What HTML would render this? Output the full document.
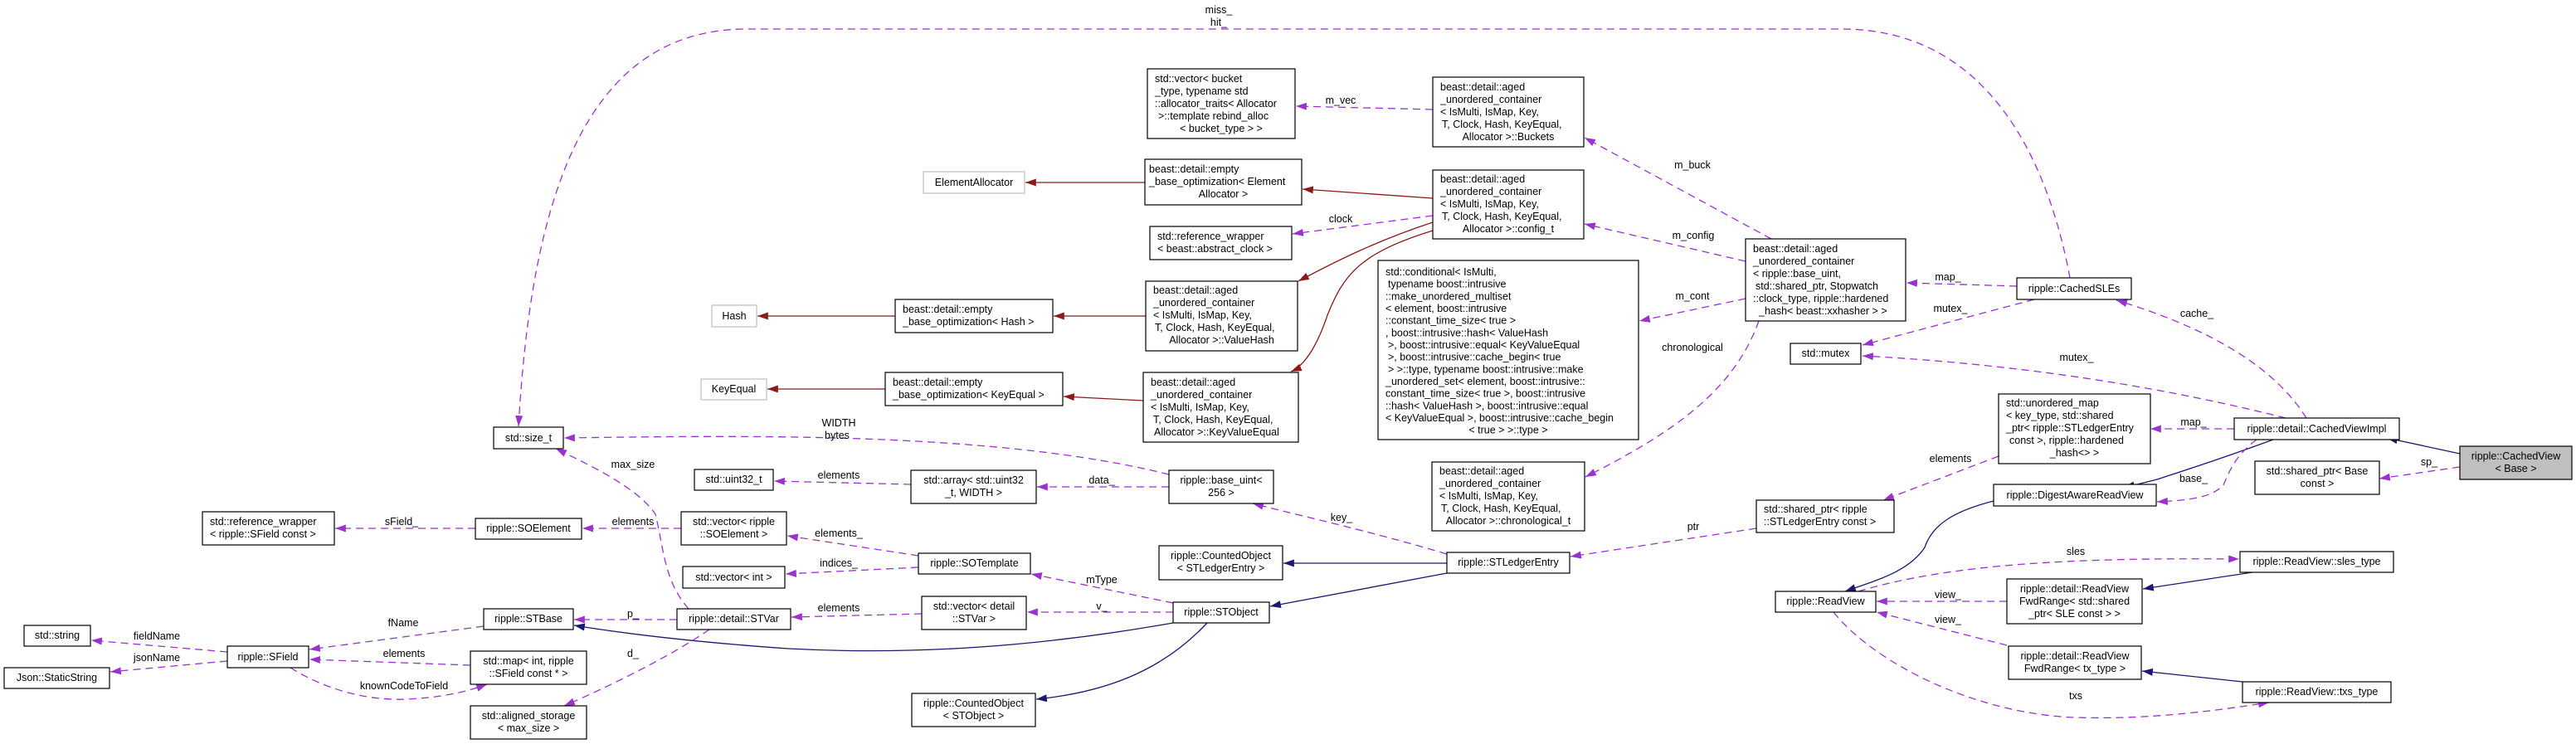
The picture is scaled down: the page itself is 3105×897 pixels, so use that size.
<!DOCTYPE html>
<html><head><meta charset="utf-8"><style>
html,body{margin:0;padding:0;background:#fff;}
svg{display:block;}
text{font-family:"Liberation Sans",Arial,sans-serif;font-size:12.5px;fill:#000;}
.c{text-anchor:middle;}
.b{fill:#fff;stroke:#000;stroke-width:1.2;}
.g{fill:#fff;stroke:#bfbfbf;stroke-width:1.2;}
.p{fill:none;stroke:#9a32cd;stroke-width:1.3;stroke-dasharray:9,6;marker-end:url(#mp);}
.n{fill:none;stroke:#191970;stroke-width:1.3;marker-end:url(#mn);}
.r{fill:none;stroke:#8b1a1a;stroke-width:1.3;marker-end:url(#mr);}
</style></head><body>
<svg width="3105" height="897" viewBox="0 0 3105 897" xmlns="http://www.w3.org/2000/svg">
<defs>
<marker id="mp" viewBox="0 0 10 7" refX="10" refY="3.5" markerWidth="13" markerHeight="9" markerUnits="userSpaceOnUse" orient="auto"><path d="M0,0L10,3.5L0,7z" fill="#9a32cd"/></marker>
<marker id="mn" viewBox="0 0 10 7" refX="10" refY="3.5" markerWidth="13" markerHeight="9" markerUnits="userSpaceOnUse" orient="auto"><path d="M0,0L10,3.5L0,7z" fill="#191970"/></marker>
<marker id="mr" viewBox="0 0 10 7" refX="10" refY="3.5" markerWidth="13" markerHeight="9" markerUnits="userSpaceOnUse" orient="auto"><path d="M0,0L10,3.5L0,7z" fill="#8b1a1a"/></marker>
</defs>

<!-- edges -->
<path class="n" d="M2965,547 L2877,528"/>
<path class="p" d="M2965,563 L2868,577"/>
<path class="n" d="M2740,530 C2680,552 2640,565 2600,578 L2560,588"/>
<path class="p" d="M2693,517 L2592,517"/>
<path class="p" d="M2720,530 C2700,545 2690,560 2680,585 C2665,600 2640,603 2600,605"/>
<path class="p" d="M2780,504 C2740,440 2660,395 2551,362"/>
<path class="p" d="M2755,504 C2620,470 2450,440 2245,429"/>
<path class="p" d="M2452,361 L2245,416"/>
<path class="p" d="M2431,345 L2298,341"/>
<path class="p" d="M2495,335 C2470,200 2400,35 2220,35 L900,35 C700,35 640,250 625,514"/>
<path class="p" d="M2135,288 L1910,166"/>
<path class="p" d="M2104,315 L1910,270"/>
<path class="p" d="M2104,360 L1976,387"/>
<path class="p" d="M2120,387 C2090,470 2020,520 1911,575"/>
<path class="p" d="M1727,132 L1562,128"/>
<path class="r" d="M1727,239 L1570,228"/>
<path class="p" d="M1727,260 L1558,282"/>
<path class="r" d="M1727,268 C1660,290 1610,315 1565,339"/>
<path class="r" d="M1727,278 C1640,305 1620,330 1600,380 C1590,410 1575,440 1556,448"/>
<path class="r" d="M1380,220 L1236,220"/>
<path class="r" d="M1381,381 L1270,381"/>
<path class="r" d="M1079,381 L913,381"/>
<path class="r" d="M1378,483 L1282,478"/>
<path class="r" d="M1067,469 L925,469"/>
<path class="n" d="M2403,604 C2360,615 2330,630 2320,660 C2300,690 2260,700 2224,713"/>
<path class="p" d="M2409,550 L2270,603"/>
<path class="p" d="M2117,637 L1893,671"/>
<path class="p" d="M1744,668 C1650,640 1560,620 1510,607"/>
<path class="n" d="M1744,679 L1547,679"/>
<path class="n" d="M1744,691 L1531,731"/>
<path class="p" d="M1409,572 C1200,520 900,525 680,528"/>
<path class="p" d="M1409,587 L1250,587"/>
<path class="p" d="M1098,584 L933,580"/>
<path class="p" d="M1414,727 L1243,692"/>
<path class="p" d="M1414,738 L1238,738"/>
<path class="n" d="M1455,751 C1400,810 1330,835 1249,843"/>
<path class="n" d="M1414,751 C1250,780 1100,790 950,782 C850,775 760,765 692,754"/>
<path class="p" d="M1107,670 L949,646"/>
<path class="p" d="M1107,684 L947,692"/>
<path class="p" d="M1111,740 L954,744"/>
<path class="p" d="M821,637 L702,637"/>
<path class="p" d="M830,734 C800,700 800,660 790,620 C770,590 720,565 670,541"/>
<path class="p" d="M816,747 L692,747"/>
<path class="p" d="M855,759 C810,790 740,825 680,851"/>
<path class="p" d="M573,637 L404,637"/>
<path class="p" d="M583,755 L373,783"/>
<path class="p" d="M567,802 L373,795"/>
<path class="p" d="M350,805 C390,830 440,845 490,843 C530,841 560,835 587,825"/>
<path class="p" d="M274,786 L110,772"/>
<path class="p" d="M274,797 L133,810"/>
<path class="p" d="M2240,713 C2350,680 2500,672 2699,674"/>
<path class="p" d="M2419,725 L2262,725"/>
<path class="p" d="M2419,778 L2262,738"/>
<path class="p" d="M2210,738 C2260,800 2380,860 2500,865 C2600,868 2680,855 2735,847"/>
<path class="n" d="M2715,690 L2583,710"/>
<path class="n" d="M2703,822 L2582,809"/>

<!-- nodes -->
<rect class="b" x="595" y="515" width="84" height="26"/><text class="c" x="637" y="532">std::size_t</text>
<rect class="b" x="244" y="617" width="159" height="40"/><text x="253" y="633">std::reference_wrapper</text><text x="253" y="648">&lt; ripple::SField const &gt;</text>
<rect class="b" x="573" y="625" width="128" height="25"/><text class="c" x="637" y="641">ripple::SOElement</text>
<rect class="b" x="29" y="754" width="80" height="25"/><text class="c" x="69" y="770">std::string</text>
<rect class="b" x="5" y="805" width="127" height="25"/><text class="c" x="68.5" y="821">Json::StaticString</text>
<rect class="b" x="274" y="779" width="98" height="26"/><text class="c" x="323" y="796">ripple::SField</text>
<rect class="b" x="583" y="734" width="108" height="25"/><text class="c" x="637" y="750">ripple::STBase</text>
<rect class="b" x="567" y="785" width="140" height="40"/><text class="c" x="637" y="801">std::map&lt; int, ripple</text><text class="c" x="637" y="816">::SField const * &gt;</text>
<rect class="b" x="567" y="851" width="140" height="40"/><text class="c" x="637" y="867">std::aligned_storage</text><text class="c" x="637" y="882">&lt; max_size &gt;</text>
<rect class="g" x="845" y="457" width="79" height="25"/><text class="c" x="884.5" y="473">KeyEqual</text>
<rect class="b" x="1067" y="449" width="214" height="40"/><text x="1076" y="465">beast::detail::empty</text><text x="1076" y="480">_base_optimization&lt; KeyEqual &gt;</text>
<rect class="b" x="1378" y="449" width="187" height="84"/><text x="1387" y="465">beast::detail::aged</text><text x="1387" y="480">_unordered_container</text><text x="1387" y="495">&lt; IsMulti, IsMap, Key,</text><text x="1390" y="510"> T, Clock, Hash, KeyEqual,</text><text x="1391" y="525">Allocator &gt;::KeyValueEqual</text>
<rect class="b" x="837" y="566" width="95" height="25"/><text class="c" x="884.5" y="582">std::uint32_t</text>
<rect class="b" x="1098" y="567" width="151" height="40"/><text class="c" x="1173.5" y="583">std::array&lt; std::uint32</text><text class="c" x="1173.5" y="598">_t, WIDTH &gt;</text>
<rect class="b" x="1409" y="567" width="126" height="40"/><text class="c" x="1472" y="583">ripple::base_uint&lt;</text><text class="c" x="1472" y="598">256 &gt;</text>
<rect class="b" x="821" y="617" width="127" height="40"/><text class="c" x="884.5" y="633">std::vector&lt; ripple</text><text class="c" x="884.5" y="648">::SOElement &gt;</text>
<rect class="b" x="1107" y="667" width="135" height="25"/><text class="c" x="1174.5" y="683">ripple::SOTemplate</text>
<rect class="b" x="823" y="683" width="123" height="26"/><text class="c" x="884.5" y="700">std::vector&lt; int &gt;</text>
<rect class="b" x="1111" y="719" width="126" height="40"/><text class="c" x="1174" y="735">std::vector&lt; detail</text><text class="c" x="1174" y="750">::STVar &gt;</text>
<rect class="b" x="1414" y="726" width="116" height="25"/><text class="c" x="1472" y="742">ripple::STObject</text>
<rect class="b" x="816" y="734" width="137" height="25"/><text class="c" x="884.5" y="750">ripple::detail::STVar</text>
<rect class="b" x="1397" y="658" width="149" height="41"/><text class="c" x="1471.5" y="674">ripple::CountedObject</text><text class="c" x="1471.5" y="689">&lt; STLedgerEntry &gt;</text>
<rect class="b" x="1099" y="836" width="149" height="40"/><text class="c" x="1173.5" y="852">ripple::CountedObject</text><text class="c" x="1173.5" y="867">&lt; STObject &gt;</text>
<rect class="g" x="1113" y="207" width="122" height="26"/><text class="c" x="1174" y="224">ElementAllocator</text>
<rect class="g" x="858" y="368" width="54" height="26"/><text class="c" x="885" y="385">Hash</text>
<rect class="b" x="1079" y="361" width="190" height="40"/><text x="1088" y="377">beast::detail::empty</text><text x="1088" y="392">_base_optimization&lt; Hash &gt;</text>
<rect class="b" x="1383" y="83" width="178" height="84"/><text x="1392" y="99">std::vector&lt; bucket</text><text x="1392" y="114">_type, typename std</text><text x="1392" y="129">::allocator_traits&lt; Allocator</text><text x="1396" y="144">&gt;::template rebind_alloc</text><text class="c" x="1472" y="159">&lt; bucket_type &gt; &gt;</text>
<rect class="b" x="1727" y="93" width="182" height="84"/><text x="1736" y="109">beast::detail::aged</text><text x="1736" y="124">_unordered_container</text><text x="1736" y="139">&lt; IsMulti, IsMap, Key,</text><text x="1738" y="154"> T, Clock, Hash, KeyEqual,</text><text class="c" x="1818" y="169">Allocator &gt;::Buckets</text>
<rect class="b" x="1380" y="192" width="189" height="55"/><text x="1385" y="208">beast::detail::empty</text><text x="1385" y="223">_base_optimization&lt; Element</text><text class="c" x="1474.5" y="238">Allocator &gt;</text>
<rect class="b" x="1727" y="205" width="182" height="83"/><text x="1736" y="220">beast::detail::aged</text><text x="1736" y="235">_unordered_container</text><text x="1736" y="250">&lt; IsMulti, IsMap, Key,</text><text x="1738" y="265"> T, Clock, Hash, KeyEqual,</text><text class="c" x="1818" y="280">Allocator &gt;::config_t</text>
<rect class="b" x="1386" y="273" width="171" height="40"/><text x="1395" y="289">std::reference_wrapper</text><text x="1395" y="304">&lt; beast::abstract_clock &gt;</text>
<rect class="b" x="1381" y="339" width="183" height="84"/><text x="1390" y="354">beast::detail::aged</text><text x="1390" y="369">_unordered_container</text><text x="1390" y="384">&lt; IsMulti, IsMap, Key,</text><text x="1392" y="399"> T, Clock, Hash, KeyEqual,</text><text class="c" x="1472.5" y="414">Allocator &gt;::ValueHash</text>
<rect class="b" x="1661" y="314" width="314" height="216"/>
<text x="1670" y="332">std::conditional&lt; IsMulti,</text>
<text x="1673" y="346.7"> typename boost::intrusive</text>
<text x="1670" y="361.3">::make_unordered_multiset</text>
<text x="1670" y="376">&lt; element, boost::intrusive</text>
<text x="1670" y="390.7">::constant_time_size&lt; true &gt;</text>
<text x="1670" y="405.3">, boost::intrusive::hash&lt; ValueHash</text>
<text x="1673" y="420"> &gt;, boost::intrusive::equal&lt; KeyValueEqual</text>
<text x="1673" y="434.7"> &gt;, boost::intrusive::cache_begin&lt; true</text>
<text x="1673" y="449.3"> &gt; &gt;::type, typename boost::intrusive::make</text>
<text x="1670" y="464">_unordered_set&lt; element, boost::intrusive::</text>
<text x="1670" y="478.7">constant_time_size&lt; true &gt;, boost::intrusive</text>
<text x="1670" y="493.3">::hash&lt; ValueHash &gt;, boost::intrusive::equal</text>
<text x="1670" y="508">&lt; KeyValueEqual &gt;, boost::intrusive::cache_begin</text>
<text class="c" x="1818" y="522.7">&lt; true &gt; &gt;::type &gt;</text>
<rect class="b" x="2104" y="288" width="193" height="99"/><text x="2113" y="304">beast::detail::aged</text><text x="2113" y="319">_unordered_container</text><text x="2113" y="334">&lt; ripple::base_uint,</text><text x="2116" y="349"> std::shared_ptr, Stopwatch</text><text x="2113" y="364">::clock_type, ripple::hardened</text><text x="2120" y="379">_hash&lt; beast::xxhasher &gt; &gt;</text>
<rect class="b" x="2158" y="414" width="85" height="25"/><text class="c" x="2200.5" y="430">std::mutex</text>
<rect class="b" x="1726" y="557" width="184" height="83"/><text x="1735" y="572">beast::detail::aged</text><text x="1735" y="587">_unordered_container</text><text x="1735" y="602">&lt; IsMulti, IsMap, Key,</text><text x="1737" y="617"> T, Clock, Hash, KeyEqual,</text><text class="c" x="1818" y="632">Allocator &gt;::chronological_t</text>
<rect class="b" x="1744" y="666" width="148" height="25"/><text class="c" x="1818" y="682">ripple::STLedgerEntry</text>
<rect class="b" x="2117" y="603" width="166" height="39"/><text x="2126" y="618">std::shared_ptr&lt; ripple</text><text x="2126" y="633">::STLedgerEntry const &gt;</text>
<rect class="b" x="2140" y="713" width="121" height="25"/><text class="c" x="2200.5" y="729">ripple::ReadView</text>
<rect class="b" x="2431" y="335" width="138" height="26"/><text class="c" x="2500" y="352">ripple::CachedSLEs</text>
<rect class="b" x="2409" y="475" width="183" height="84"/><text x="2418" y="490">std::unordered_map</text><text x="2418" y="505">&lt; key_type, std::shared</text><text x="2418" y="520">_ptr&lt; ripple::STLedgerEntry</text><text x="2422" y="535"> const &gt;, ripple::hardened</text><text class="c" x="2500.5" y="550">_hash&lt;&gt; &gt;</text>
<rect class="b" x="2693" y="504" width="199" height="26"/><text class="c" x="2792.5" y="521">ripple::detail::CachedViewImpl</text>
<rect class="b" x="2403" y="584" width="196" height="26"/><text class="c" x="2501" y="601">ripple::DigestAwareReadView</text>
<rect class="b" x="2718" y="556" width="150" height="40"/><text class="c" x="2793" y="572">std::shared_ptr&lt; Base</text><text class="c" x="2793" y="587">const &gt;</text>
<rect x="2965" y="538" width="135" height="40" fill="#bfbfbf" stroke="#000" stroke-width="1.2"/><text class="c" x="3032.5" y="554">ripple::CachedView</text><text class="c" x="3032.5" y="569">&lt; Base &gt;</text>
<rect class="b" x="2700" y="665" width="185" height="25"/><text class="c" x="2792.5" y="681">ripple::ReadView::sles_type</text>
<rect class="b" x="2419" y="698" width="163" height="54"/><text class="c" x="2500.5" y="714">ripple::detail::ReadView</text><text class="c" x="2500.5" y="729">FwdRange&lt; std::shared</text><text class="c" x="2500.5" y="744">_ptr&lt; SLE const &gt; &gt;</text>
<rect class="b" x="2421" y="779" width="160" height="40"/><text class="c" x="2501" y="795">ripple::detail::ReadView</text><text class="c" x="2501" y="810">FwdRange&lt; tx_type &gt;</text>
<rect class="b" x="2703" y="822" width="179" height="25"/><text class="c" x="2792.5" y="838">ripple::ReadView::txs_type</text>

<!-- edge labels -->
<text class="c" x="1469" y="16">miss_</text><text class="c" x="1469" y="31">hit_</text>
<text class="c" x="1616" y="125">m_vec</text>
<text class="c" x="2040" y="203">m_buck</text>
<text class="c" x="1616" y="268">clock</text>
<text class="c" x="2041" y="288">m_config</text>
<text class="c" x="2040" y="361">m_cont</text>
<text class="c" x="2040" y="423">chronological</text>
<text class="c" x="2348" y="338">map_</text>
<text class="c" x="2351" y="376">mutex_</text>
<text class="c" x="2648" y="382">cache_</text>
<text class="c" x="2503" y="435">mutex_</text>
<text class="c" x="2644" y="513">map_</text>
<text class="c" x="2644" y="581">base_</text>
<text class="c" x="2928" y="561">sp_</text>
<text class="c" x="2351" y="557">elements</text>
<text class="c" x="2041" y="639">ptr</text>
<text class="c" x="1617" y="628">key_</text>
<text class="c" x="2348" y="721">view_</text>
<text class="c" x="2348" y="751">view_</text>
<text class="c" x="2502" y="669">sles</text>
<text class="c" x="2502" y="843">txs</text>
<text class="c" x="1011" y="514">WIDTH</text><text class="c" x="1009" y="529">bytes</text>
<text class="c" x="1011" y="577">elements</text>
<text class="c" x="1328" y="583">data_</text>
<text class="c" x="1011" y="647">elements_</text>
<text class="c" x="1011" y="683">indices_</text>
<text class="c" x="1328" y="703">mType</text>
<text class="c" x="1328" y="735">v_</text>
<text class="c" x="1011" y="737">elements</text>
<text class="c" x="763" y="564">max_size</text>
<text class="c" x="763" y="633">elements</text>
<text class="c" x="484" y="633">sField_</text>
<text class="c" x="763" y="744">p_</text>
<text class="c" x="763" y="792">d_</text>
<text class="c" x="486" y="755">fName</text>
<text class="c" x="189" y="771">fieldName</text>
<text class="c" x="189" y="797">jsonName</text>
<text class="c" x="487" y="792">elements</text>
<text class="c" x="487" y="831">knownCodeToField</text>
</svg>
</body></html>
